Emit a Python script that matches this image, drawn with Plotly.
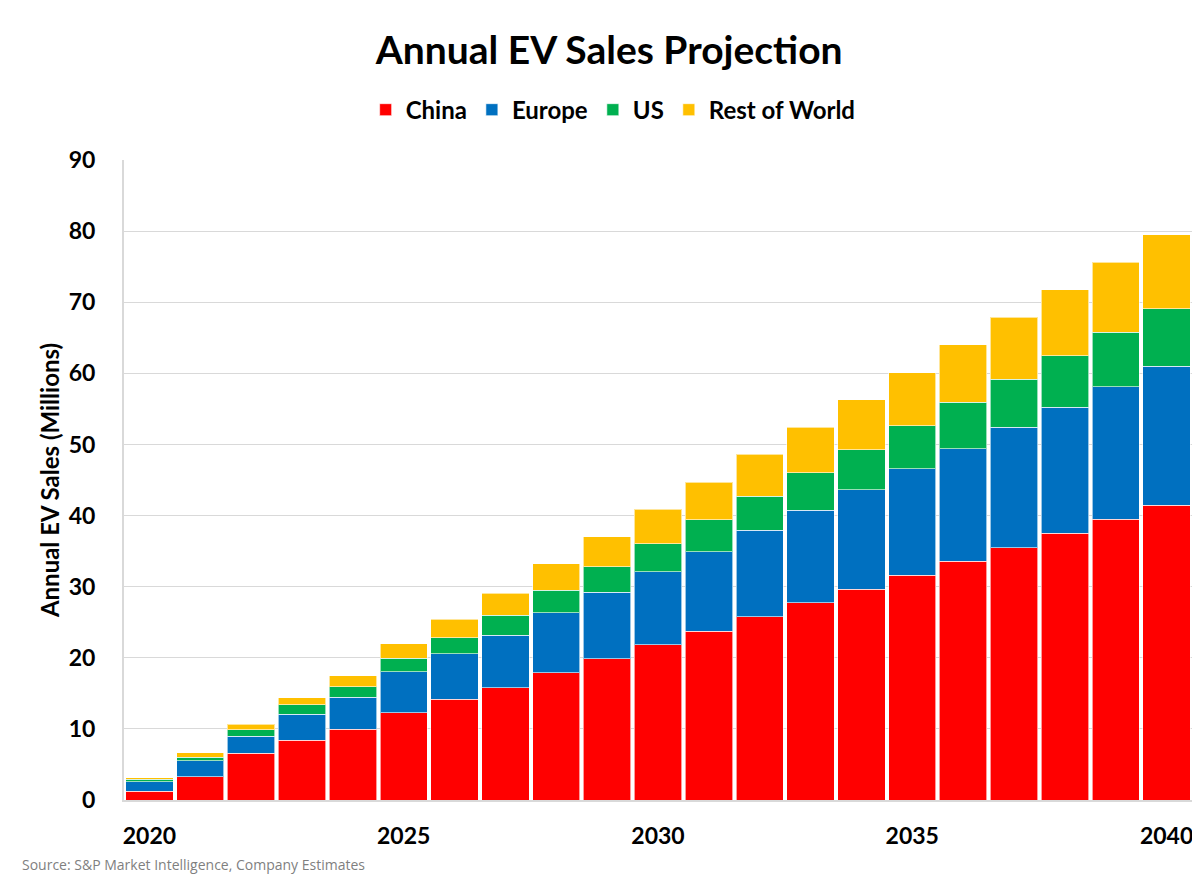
import plotly.graph_objects as go

years = list(range(2020, 2041))
china = [1.25, 3.3, 6.55, 8.4, 9.95, 12.25, 14.15, 15.8, 17.9, 19.85, 21.8,
         23.75, 25.8, 27.75, 29.65, 31.6, 33.6, 35.5, 37.5, 39.45, 41.45]
europe = [1.3, 2.2, 2.45, 3.65, 4.5, 5.8, 6.45, 7.35, 8.4, 9.35, 10.3,
          11.15, 12.1, 13.0, 14.0, 14.95, 15.8, 16.9, 17.7, 18.65, 19.55]
us = [0.35, 0.5, 0.9, 1.35, 1.45, 1.9, 2.25, 2.8, 3.2, 3.6, 3.95,
      4.5, 4.8, 5.25, 5.6, 6.05, 6.5, 6.8, 7.25, 7.7, 8.1]
row = [0.25, 0.65, 0.75, 0.95, 1.55, 2.0, 2.6, 3.1, 3.7, 4.25, 4.85,
       5.3, 5.9, 6.45, 7.05, 7.5, 8.1, 8.7, 9.3, 9.8, 10.4]
x_ticks = [2020, 2025, 2030, 2035, 2040]
y_ticks = [0, 10, 20, 30, 40, 50, 60, 70, 80, 90]

series = [("China", china, "#ff0000"),
          ("Europe", europe, "#0070c0"),
          ("US", us, "#00b050"),
          ("Rest of World", row, "#ffc000")]

fig = go.Figure()
for name, vals, color in series:
    fig.add_trace(go.Bar(
        x=years, y=vals, name=f"<b>{name}</b>",
        marker=dict(color=color, line=dict(color="rgba(255,255,255,0.6)", width=1))))

font = "Lato, Calibri, Arial, sans-serif"
# the page adds an 8px body margin, so margins are shifted by 8px
fig.update_layout(
    barmode="stack",
    bargap=0.07,
    width=1200, height=876,
    margin=dict(l=116, r=16, t=152, b=84),
    paper_bgcolor="white", plot_bgcolor="white",
    font=dict(family=font, color="black"),
    title=dict(text="<b>Annual EV Sales Projection</b>", x=0.501, xanchor="center",
               y=0.952, yanchor="middle", font=dict(size=39)),
    legend=dict(orientation="h", x=0.458, xanchor="center", y=1.078, yanchor="middle",
                font=dict(size=24, family=font), traceorder="normal"),
    showlegend=True,
)
fig.update_xaxes(range=[2019.5, 2040.5], tickvals=x_ticks,
                 ticktext=[f"<b>{t}</b>" for t in x_ticks],
                 tickfont=dict(size=23), showgrid=False, ticks="",
                 showline=True, linecolor="#d9d9d9", linewidth=2,
                 ticklabelstandoff=14)
fig.update_yaxes(range=[0, 90], tickvals=y_ticks,
                 ticktext=[f"<b>{t}</b>" for t in y_ticks],
                 tickfont=dict(size=23), gridcolor="#d9d9d9", gridwidth=1,
                 showline=True, linecolor="#d9d9d9", linewidth=2, zeroline=False,
                 ticklabelstandoff=22,
                 title=dict(text="<b>Annual EV Sales (Millions)</b>",
                            font=dict(size=24), standoff=2))
fig.add_annotation(text="Source: S&P Market Intelligence, Company Estimates",
                   xref="paper", yref="paper", x=-0.0974, y=-0.1,
                   xanchor="left", yanchor="middle", showarrow=False,
                   font=dict(size=14, color="#7f7f7f", family="Open Sans, Calibri, sans-serif"))

fig.write_html("out.html")
